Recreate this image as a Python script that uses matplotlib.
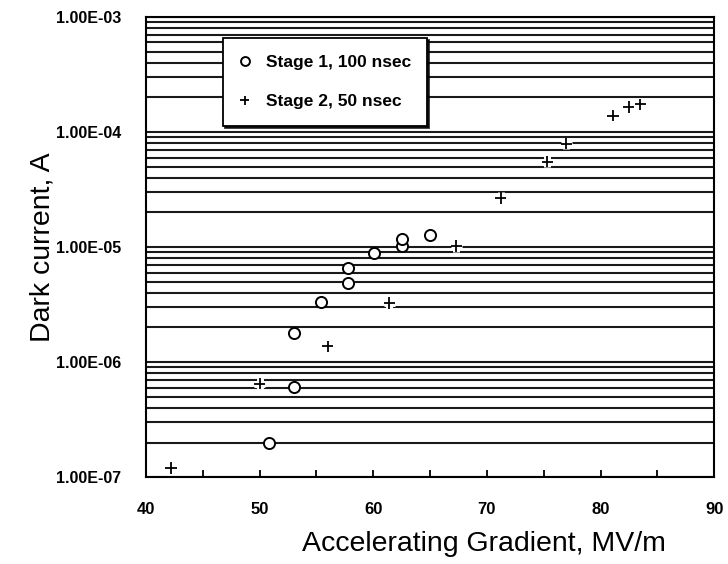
import numpy as np
import matplotlib.pyplot as plt
import matplotlib.patheffects as pe
from matplotlib.ticker import LogLocator, FixedLocator, NullFormatter, FuncFormatter

plt.rcParams['font.family'] = ['Liberation Sans', 'DejaVu Sans']

# Stage 1, 100 nsec (open circles)
s1_grad = [50.8, 53.0, 53.0, 55.4, 57.8, 57.8, 60.1, 62.5, 62.5, 65.0]
s1_curr = [2.0e-7, 6.1e-7, 1.8e-6, 3.3e-6, 4.9e-6, 6.6e-6, 8.8e-6, 1.03e-5, 1.18e-5, 1.26e-5]

# Stage 2, 50 nsec (plus signs)
s2_grad = [42.2, 50.0, 56.0, 61.4, 67.3, 71.2, 75.3, 77.0, 81.1, 82.5, 83.5]
s2_curr = [1.2e-7, 6.5e-7, 1.37e-6, 3.26e-6, 1.02e-5, 2.67e-5, 5.5e-5, 7.9e-5, 1.38e-4, 1.65e-4, 1.74e-4]

x_major = [40, 50, 60, 70, 80, 90]
x_minor = [45, 55, 65, 75, 85]

fig = plt.figure(figsize=(7.28, 5.64), dpi=100)
ax = fig.add_axes([0.2005, 0.154, 0.7805, 0.816])

halo = [pe.withStroke(linewidth=5, foreground='white')]
ax.plot(s1_grad, s1_curr, 'o', ls='none', ms=8, mfc='white', mec='black', mew=1.4,
        label='Stage 1, 100 nsec', zorder=3)
ax.plot(s2_grad, s2_curr, '+', ls='none', ms=8, mec='black', mew=1.3,
        label='Stage 2, 50 nsec', zorder=3, path_effects=halo)

ax.set_yscale('log')
ax.set_ylim(1e-7, 1e-3)
ax.set_xlim(40, 90)

ax.yaxis.set_major_locator(LogLocator(base=10, numticks=10))
ax.yaxis.set_minor_locator(LogLocator(base=10, subs=np.arange(2, 10), numticks=50))
ax.yaxis.set_minor_formatter(NullFormatter())
ax.yaxis.set_major_formatter(FuncFormatter(lambda v, p: f"{v:.2E}"))
ax.grid(True, axis='y', which='both', color='#1a1a1a', lw=1.5)

ax.xaxis.set_major_locator(FixedLocator(x_major))
ax.xaxis.set_minor_locator(FixedLocator(x_minor))
ax.tick_params(axis='x', which='both', direction='in', length=5, width=1.3, pad=18,
               labelsize=12)
ax.tick_params(axis='y', which='both', length=0, pad=18, labelsize=11.5)
for lab in ax.get_xticklabels() + ax.get_yticklabels():
    lab.set_fontweight('bold')

for s in ax.spines.values():
    s.set_linewidth(1.5)

ax.set_ylabel('Dark current, A', fontsize=20.5)
ax.yaxis.set_label_coords(-0.16, 0.5)
ax.set_xlabel('Accelerating Gradient, MV/m', fontsize=20.5)
ax.xaxis.set_label_coords(0.595, -0.116)

leg = ax.legend(loc='upper left', bbox_to_anchor=(0.1356, 0.954), borderaxespad=0,
                frameon=True, fancybox=False, edgecolor='black', framealpha=1,
                prop={'weight': 'bold', 'size': 12.5}, borderpad=0.95,
                labelspacing=1.4, handlelength=0.6, handletextpad=0.9,
                markerscale=0.8,
                shadow={'ox': 1.5, 'oy': -1.5, 'color': 'black', 'alpha': 0.8})
leg.get_frame().set_linewidth(1.3)

fig.savefig('out.png', dpi=100)
